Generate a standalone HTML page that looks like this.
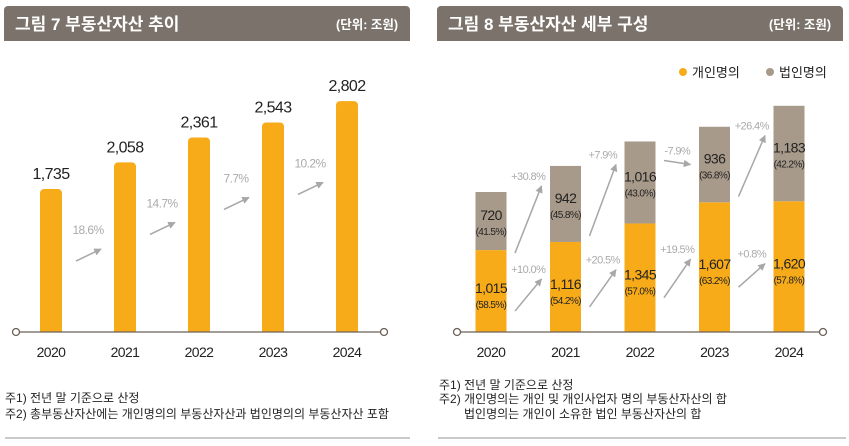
<!DOCTYPE html>
<html><head><meta charset="utf-8"><style>
body{margin:0;background:#fff;width:849px;height:446px;overflow:hidden}
svg{display:block}
text{font-family:"Liberation Sans","Noto Sans CJK KR",sans-serif}
.num{font-family:"Liberation Sans Narrow","Liberation Sans","Noto Sans CJK KR",sans-serif;letter-spacing:-0.6px}
</style></head><body>
<svg id="c" width="849" height="446" viewBox="0 0 849 446" xmlns="http://www.w3.org/2000/svg">
<defs><marker id="ah" viewBox="0 0 10 10" refX="9" refY="5" markerWidth="5" markerHeight="5" orient="auto"><path d="M0,0L10,5L0,10z" fill="#a7a7a7"/></marker></defs>
<g>
<path d="M4,41V10a4,4 0 0 1 4,-4H406a4,4 0 0 1 4,4V41z" fill="#7b736b"/>
<text x="15" y="30" font-size="17" font-weight="bold" fill="#fff">그림 7  부동산자산 추이</text>
<text x="398" y="29" font-size="12.5" font-weight="bold" fill="#fff" text-anchor="end">(단위: 조원)</text>
</g>
<g>
<path d="M437,41V10a4,4 0 0 1 4,-4H839a4,4 0 0 1 4,4V41z" fill="#7b736b"/>
<text x="448" y="30" font-size="17" font-weight="bold" fill="#fff">그림 8  부동산자산 세부 구성</text>
<text x="831" y="29" font-size="12.5" font-weight="bold" fill="#fff" text-anchor="end">(단위: 조원)</text>
</g>
<g>
<circle cx="683" cy="72" r="4" fill="#f8ab19"/>
<text x="692" y="77" font-size="13" fill="#222">개인명의</text>
<circle cx="770" cy="72" r="4" fill="#a89a8a"/>
<text x="779" y="77" font-size="13" fill="#222">법인명의</text>
</g>
<g id="L"></g><g id="R"></g>
<g font-size="12" fill="#222">
<text x="5" y="402">주1) 전년 말 기준으로 산정</text>
<text x="5" y="418">주2) 총부동산자산에는 개인명의의 부동산자산과 법인명의의 부동산자산 포함</text>
<text x="439" y="389">주1) 전년 말 기준으로 산정</text>
<text x="439" y="403">주2) 개인명의는 개인 및 개인사업자 명의 부동산자산의 합</text>
<text x="464" y="418">법인명의는 개인이 소유한 법인 부동산자산의 합</text>
</g>
<line x1="5" y1="438" x2="410" y2="438" stroke="#aaa" stroke-width="1.2"/>
<line x1="438" y1="438" x2="846" y2="438" stroke="#aaa" stroke-width="1.2"/>
</svg>
<script>
const years=["2020","2021","2022","2023","2024"];
const totals=[1735,2058,2361,2543,2802];
const totalGrowth=["18.6%","14.7%","7.7%","10.2%"];
const personal=[1015,1116,1345,1607,1620];
const corporate=[720,942,1016,936,1183];
const personalPct=["(58.5%)","(54.2%)","(57.0%)","(63.2%)","(57.8%)"];
const corporatePct=["(41.5%)","(45.8%)","(43.0%)","(36.8%)","(42.2%)"];
const personalGrowth=["+10.0%","+20.5%","+19.5%","+0.8%"];
const corporateGrowth=["+30.8%","+7.9%","-7.9%","+26.4%"];
const NS="http://www.w3.org/2000/svg";
function mk(p,t,a,txt){const e=document.createElementNS(NS,t);for(const k in a)e.setAttribute(k,a[k]);if(txt!==undefined)e.textContent=txt;p.appendChild(e);return e;}
const base=332;
const L=document.getElementById('L');
const lx=i=>51+i*74, ly=v=>base-v*0.0824;
years.forEach((y,i)=>{
 const top=ly(totals[i]);
 const b=mk(L,'path',{d:`M${lx(i)-11},${base}V${top+4}a4,4 0 0 1 4,-4h14a4,4 0 0 1 4,4V${base}z`,fill:'#f8ab19'});
 
 
 const t=mk(L,'text',{x:lx(i),y:top-10,'font-size':16,'text-anchor':'middle',fill:'#222',class:'num'},totals[i].toLocaleString('en-US'));
 
 
 const yl=mk(L,'text',{x:lx(i),y:357,'font-size':14,'text-anchor':'middle',fill:'#222',class:'num'},y);
 
 
});
totalGrowth.forEach((g,i)=>{
 const mx=(lx(i)+lx(i+1))/2, my=ly(totals[i])+62;
 const a=mk(L,'line',{x1:mx-12,y1:my+10,x2:mx+13,y2:my-2,stroke:'#a7a7a7','stroke-width':1.5,'marker-end':'url(#ah)'});
 
 
 const t=mk(L,'text',{x:mx,y:my-17,'font-size':12,'text-anchor':'middle',fill:'#aaa',class:'num'},g);
 
 
});
const la=mk(L,'line',{x1:16,y1:base,x2:384,y2:base,stroke:'#6b6157','stroke-width':1.3});


[16,384].forEach(x=>{const c=mk(L,'circle',{cx:x,cy:base,r:3.5,fill:'#fff',stroke:'#6b6157','stroke-width':1.3});

});
const R=document.getElementById('R');
const rx=i=>491+i*74.5, ry=v=>base-v*0.0807;
years.forEach((y,i)=>{
 const pt=ry(personal[i]), ct=ry(personal[i]+corporate[i]);
 const b1=mk(R,'rect',{x:rx(i)-15.5,y:pt,width:31,height:base-pt,fill:'#f8ab19'});
 
 
 const b2=mk(R,'rect',{x:rx(i)-15.5,y:ct,width:31,height:pt-ct,fill:'#a89a8a'});
 
 
 const pm=(pt+base)/2, cm=(ct+pt)/2;
 const t1=mk(R,'text',{x:rx(i),y:pm+2,'font-size':14,'text-anchor':'middle',fill:'#222',class:'num'},personal[i].toLocaleString('en-US'));
 
 
 const p1=mk(R,'text',{x:rx(i),y:pm+17,'font-size':10,'text-anchor':'middle',fill:'#222',class:'num'},personalPct[i]);
 
 
 const t2=mk(R,'text',{x:rx(i),y:cm-1,'font-size':14,'text-anchor':'middle',fill:'#222',class:'num'},corporate[i].toLocaleString('en-US'));
 
 
 const p2=mk(R,'text',{x:rx(i),y:cm+14,'font-size':10,'text-anchor':'middle',fill:'#222',class:'num'},corporatePct[i]);
 
 
 const yl=mk(R,'text',{x:rx(i),y:357,'font-size':14,'text-anchor':'middle',fill:'#222',class:'num'},y);
 
 
});
function arrow(i,y0,y1,g,nm){
 const x0=rx(i)+24, x1=rx(i+1)-24;
 const a=mk(R,'line',{x1:x0,y1:y0,x2:x1,y2:y1,stroke:'#a7a7a7','stroke-width':1.5,'marker-end':'url(#ah)'});
 
 
 const t=mk(R,'text',{x:(x0+x1)/2,y:Math.min(y0,y1)-6,'font-size':11,'text-anchor':'middle',fill:'#aaa',class:'num'},g);
 
 
}
personalGrowth.forEach((g,i)=>{
 const a=(ry(personal[i])+base)/2+20, b=(ry(personal[i+1])+base)/2-8;
 arrow(i,a,i==3?b+5:b,g,'personal-growth');
});
corporateGrowth.forEach((g,i)=>{
 const down=corporate[i+1]<corporate[i];
 const a=(ry(personal[i])+ry(personal[i]+corporate[i]))/2+(down?-22:32);
 const b=(ry(personal[i+1])+ry(personal[i+1]+corporate[i+1]))/2+(down?0:-18);
 arrow(i,a,b,g,'corporate-growth');
});
const ra=mk(R,'line',{x1:457,y1:base,x2:823,y2:base,stroke:'#6b6157','stroke-width':1.3});


[457,823].forEach(x=>{const c=mk(R,'circle',{cx:x,cy:base,r:3.5,fill:'#fff',stroke:'#6b6157','stroke-width':1.3});

});
</script>
</body></html>
